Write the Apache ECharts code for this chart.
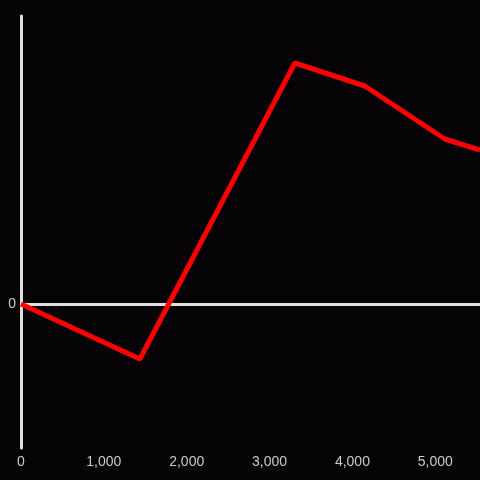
<!DOCTYPE html>
<html>
<head>
<meta charset="utf-8">
<script src="https://cdn.jsdelivr.net/npm/echarts@6/dist/echarts.min.js"></script>
<style>
  html, body { margin: 0; padding: 0; background: #050305; }
  #chart { width: 480px; height: 480px; }
</style>
</head>
<body>
<div id="chart"></div>
<script>
const xValues = [0, 1435, 3305, 4150, 5115, 5540];
const yValues = [0, -55, 241, 218, 165, 154];
const xTicks = [0, 1000, 2000, 3000, 4000, 5000];

const chart = echarts.init(document.getElementById("chart"));
chart.setOption({
  animation: false,
  backgroundColor: "#050305",
  grid: { left: 21, right: 0, top: 16, bottom: 32 },
  xAxis: {
    type: "value",
    min: 0,
    max: 5540,
    interval: 1000,
    axisLine: { show: false },
    axisTick: { show: false },
    splitLine: { show: false },
    axisLabel: {
      color: "#cccccc",
      fontSize: 14,
      margin: 7,
      showMaxLabel: false,
      formatter: (v) => (xTicks.includes(v) ? v.toLocaleString("en-US") : "")
    }
  },
  yAxis: {
    type: "value",
    min: -144,
    max: 288,
    interval: 144,
    axisLine: { show: true, onZero: false, lineStyle: { color: "#e0e0e0", width: 3 } },
    axisTick: { show: false },
    splitLine: { show: false },
    axisLabel: {
      color: "#cccccc",
      fontSize: 14,
      margin: 5,
      formatter: (v) => (v === 0 ? "0" : "")
    }
  },
  series: [
    {
      type: "line",
      data: [],
      z: 1,
      markLine: {
        silent: true,
        symbol: "none",
        label: { show: false },
        lineStyle: { color: "#e0e0e0", width: 3, type: "solid" },
        data: [{ yAxis: 0 }]
      }
    },
    {
      type: "line",
      data: xValues.map((x, i) => [x, yValues[i]]),
      symbol: "none",
      z: 5,
      lineStyle: { color: "#ff0000", width: 5 }
    }
  ]
});
</script>
</body>
</html>
